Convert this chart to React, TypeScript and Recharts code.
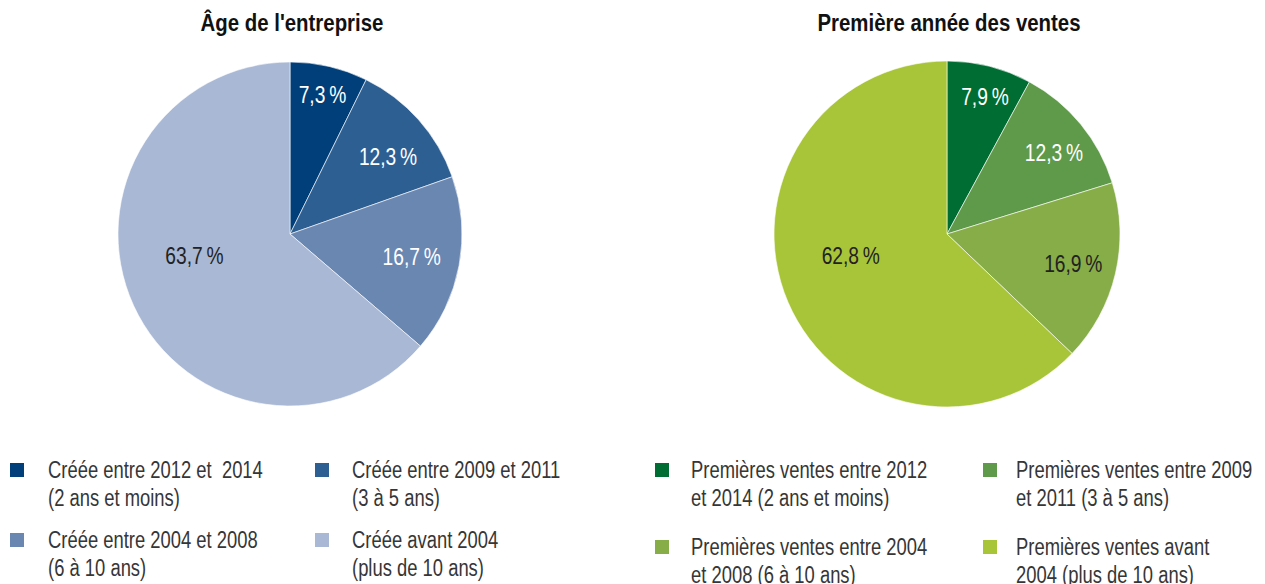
import { PieChart, Pie, Cell } from 'recharts';

const ageLabels = [
  'Créée entre 2012 et  2014\n(2 ans et moins)',
  'Créée entre 2009 et 2011\n(3 à 5 ans)',
  'Créée entre 2004 et 2008\n(6 à 10 ans)',
  'Créée avant 2004\n(plus de 10 ans)',
];
const ageValues = [7.3, 12.3, 16.7, 63.7];

const salesLabels = [
  'Premières ventes entre 2012\net 2014 (2 ans et moins)',
  'Premières ventes entre 2009\net 2011 (3 à 5 ans)',
  'Premières ventes entre 2004\net 2008 (6 à 10 ans)',
  'Premières ventes avant\n2004 (plus de 10 ans)',
];
const salesValues = [7.9, 12.3, 16.9, 62.8];

const ageColors = ['#003f7a', '#2e5f93', '#6a87b2', '#a9b8d4'];
const salesColors = ['#006e33', '#5f9a4a', '#86ad47', '#a8c53a'];

// no condensed font installed, so squeeze Liberation Sans horizontally
const FONT = "'Liberation Sans', Arial, sans-serif";
const SQUEEZE = 0.8;
const RAD = Math.PI / 180;

const ageData = ageValues.map((v, i) => ({ name: ageLabels[i], value: v }));
const salesData = salesValues.map((v, i) => ({ name: salesLabels[i], value: v }));

// label placement: fraction of radius, and a small clockwise nudge off the mid angle
const makeLabel = (radii: number[], nudge: number[], fills: string[]) => (p: any) => {
  const r = p.outerRadius * radii[p.index];
  const a = (p.midAngle - nudge[p.index]) * RAD;
  const x = p.cx + r * Math.cos(-a);
  const y = p.cy + r * Math.sin(-a);
  return (
    <text transform={`translate(${x},${y}) scale(${SQUEEZE},1)`} fill={fills[p.index]} textAnchor="middle"
      dominantBaseline="central" fontFamily={FONT} fontSize={24}>
      {p.value.toFixed(1).replace('.', ',')}{'\u2009'}%
    </text>
  );
};

const Legend = ({ labels, colors, boxX, textX, rows }: any) => (
  <>
    {labels.map((l: string, i: number) => {
      const top = rows[Math.floor(i / 2)];
      return (
        <div key={i}>
          <div style={{ position: 'absolute', left: boxX[i % 2], top: top + 7, width: 14, height: 14, background: colors[i] }} />
          <div style={{
            position: 'absolute', left: textX[i % 2], top, whiteSpace: 'pre', fontFamily: FONT, fontSize: 23,
            lineHeight: '28px', color: '#363636', transform: `scaleX(${SQUEEZE})`, transformOrigin: 'left top',
          }}>
            {l}
          </div>
        </div>
      );
    })}
  </>
);

const titleStyle = (cx: number): any => ({
  position: 'absolute', left: cx - 250, width: 500, top: 11, textAlign: 'center', fontFamily: FONT,
  fontWeight: 'bold', fontSize: 24, lineHeight: '24px', color: '#111', transform: 'scaleX(0.85)',
});

export default function App() {
  return (
    <div style={{ position: 'absolute', left: 0, top: 0, width: 1265, height: 584, background: '#fff', overflow: 'hidden' }}>
      <div style={titleStyle(292)}>Âge de l'entreprise</div>
      <div style={titleStyle(949)}>Première année des ventes</div>
      <PieChart width={1265} height={584} margin={{ top: 0, right: 0, bottom: 0, left: 0 }}
        style={{ position: 'absolute', left: 0, top: 0 }}>
        <Pie data={ageData} dataKey="value" cx={290} cy={234} outerRadius={172} startAngle={90} endAngle={-270}
          stroke="#ffffff" strokeWidth={0.6} isAnimationActive={false} labelLine={false}
          label={makeLabel([0.83, 0.725, 0.72, 0.57], [0, 3.4, 0, 11.6], ['#fff', '#fff', '#fff', '#222'])}>
          {ageData.map((_, i) => <Cell key={i} fill={ageColors[i]} />)}
        </Pie>
        <Pie data={salesData} dataKey="value" cx={947} cy={234} outerRadius={173} startAngle={90} endAngle={-270}
          stroke="#ffffff" strokeWidth={0.6} isAnimationActive={false} labelLine={false}
          label={makeLabel([0.825, 0.777, 0.75, 0.57], [1.2, 2.1, 0, 10.5], ['#fff', '#fff', '#222', '#222'])}>
          {salesData.map((_, i) => <Cell key={i} fill={salesColors[i]} />)}
        </Pie>
      </PieChart>
      <Legend labels={ageLabels} colors={ageColors} boxX={[10, 315]} textX={[48, 352]} rows={[456, 526]} />
      <Legend labels={salesLabels} colors={salesColors} boxX={[655, 983]} textX={[691, 1016]} rows={[456, 533]} />
    </div>
  );
}
